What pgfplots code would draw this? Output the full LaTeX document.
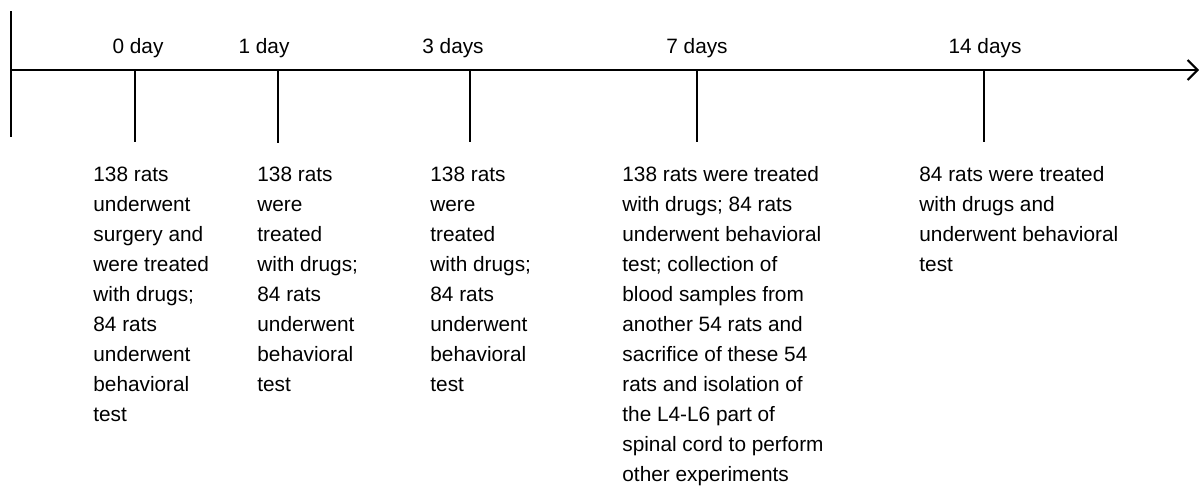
\documentclass[border=0pt]{standalone}
\usepackage{fontspec}
\setmainfont{Liberation Sans}
\usepackage{pgfplots}
\pgfplotsset{compat=1.18}
\usetikzlibrary{arrows.meta}
\newcommand{\TT}[3]{\node[anchor=base west, inner sep=0pt] at (axis cs:#1,#2) {#3};}
\newcommand{\LL}[3]{\node[anchor=base, inner sep=0pt] at (axis cs:#1,#2) {#3};}
\begin{document}
\begin{tikzpicture}
\begin{axis}[
  width=600.5pt, height=251.5pt, scale only axis,
  xmin=0, xmax=1201, ymin=0, ymax=503, y dir=reverse,
  hide axis, clip=false,
  font=\fontsize{10.4}{15}\selectfont,
]
\path (axis cs:0,0) rectangle (axis cs:1201,503);
% main lines
\addplot[black, line width=1pt] coordinates {(11,11) (11,137)};
\addplot[black, line width=1pt, -{Straight Barb[length=5pt,width=10pt,line width=1pt]}] coordinates {(11,70) (1199,70)};
% ticks
\addplot[black, line width=1pt] coordinates {(135,70) (135,142)};
\addplot[black, line width=1pt] coordinates {(278,70) (278,143)};
\addplot[black, line width=1pt] coordinates {(470,70) (470,142)};
\addplot[black, line width=1pt] coordinates {(697,70) (697,142)};
\addplot[black, line width=1pt] coordinates {(984,70) (984,142)};
% labels
\LL{138}{54}{0 day}
\LL{264}{54}{1 day}
\LL{453}{54}{3 days}
\LL{697}{54}{7 days}
\LL{985}{54}{14 days}
% block 1
\TT{93}{181}{138 rats}
\TT{93}{211}{underwent}
\TT{93}{241}{surgery and}
\TT{93}{271}{were treated}
\TT{93}{301}{with drugs;}
\TT{93}{331}{84 rats}
\TT{93}{361}{underwent}
\TT{93}{391}{behavioral}
\TT{93}{421}{test}
% block 2
\TT{257}{181}{138 rats}
\TT{257}{211}{were}
\TT{257}{241}{treated}
\TT{257}{271}{with drugs;}
\TT{257}{301}{84 rats}
\TT{257}{331}{underwent}
\TT{257}{361}{behavioral}
\TT{257}{391}{test}
% block 3
\TT{430}{181}{138 rats}
\TT{430}{211}{were}
\TT{430}{241}{treated}
\TT{430}{271}{with drugs;}
\TT{430}{301}{84 rats}
\TT{430}{331}{underwent}
\TT{430}{361}{behavioral}
\TT{430}{391}{test}
% block 4
\TT{622}{181}{138 rats were treated}
\TT{622}{211}{with drugs; 84 rats}
\TT{622}{241}{underwent behavioral}
\TT{622}{271}{test; collection of}
\TT{622}{301}{blood samples from}
\TT{622}{331}{another 54 rats and}
\TT{622}{361}{sacrifice of these 54}
\TT{622}{391}{rats and isolation of}
\TT{622}{421}{the L4-L6 part of}
\TT{622}{451}{spinal cord to perform}
\TT{622}{481}{other experiments}
% block 5
\TT{919}{181}{84 rats were treated}
\TT{919}{211}{with drugs and}
\TT{919}{241}{underwent behavioral}
\TT{919}{271}{test}
\end{axis}
\end{tikzpicture}
\end{document}
